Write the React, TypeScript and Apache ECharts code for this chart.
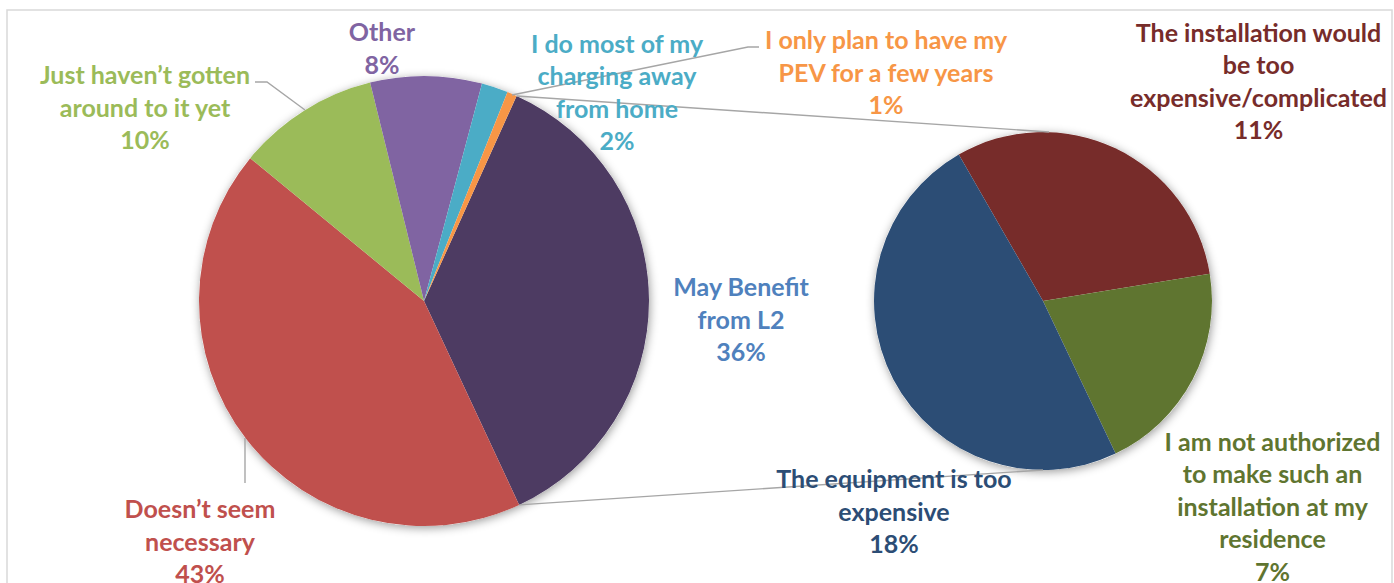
import React, { useEffect, useRef } from 'react';
import * as echarts from 'echarts';

// ---- data ----
const mainNames = [
  'May Benefit\nfrom L2',
  'Doesn\u2019t seem\nnecessary',
  'Just haven\u2019t gotten\naround to it yet',
  'Other',
  'I do most of my\ncharging away\nfrom home',
  'I only plan to have my\nPEV for a few years',
];
const mainValues = [36.3, 42.9, 10.2, 8.0, 1.9, 0.7];
const mainColors = ['#4D3B62', '#C0504D', '#9BBB59', '#8064A2', '#4BACC6', '#F79646'];
const mainLabelColors = ['#4F81BD', '#C0504D', '#9BBB59', '#8064A2', '#4BACC6', '#F79646'];

const subNames = [
  'The installation would\nbe too\nexpensive/complicated',
  'I am not authorized\nto make such an\ninstallation at my\nresidence',
  'The equipment is too\nexpensive',
];
const subValues = [11.15, 7.45, 17.7];
const subColors = ['#772C2A', '#5F7530', '#2C4D75'];
const subLabelColors = ['#772C2A', '#5F7530', '#2C4D75'];

// ---- layout (styling) ----
const LEFT = { cx: 424, cy: 301, r: 225, start: 65.7 };
const RIGHT = { cx: 1043, cy: 301, r: 169, start: 119.9 };
const mainLabelPos = [
  [741, 318.5],
  [200, 540.5],
  [145, 106.5],
  [382, 47.5],
  [617, 91.5],
  [886, 71.5],
];
const subLabelPos = [
  [1258.5, 80.5],
  [1272.5, 505.5],
  [894, 510.5],
];
const leaderLines = [
  [[255, 82], [267, 82], [305, 110]],
  [[512, 95], [748, 47], [759, 47]],
  [[245, 438], [245, 483]],
];

const FONT = 'Lato';
const FS = 25;
const LH = 32.5;

export default function App() {
  const ref = useRef<HTMLDivElement>(null);
  useEffect(() => {
    if (!ref.current) return;
    const chart = echarts.init(ref.current, undefined, { renderer: 'svg' });
    const total = mainValues.reduce((a, b) => a + b, 0);
    const a0 = (LEFT.start * Math.PI) / 180;
    const a1 = ((LEFT.start - (360 * mainValues[0]) / total) * Math.PI) / 180;
    const p0 = [LEFT.cx + LEFT.r * Math.cos(a0), LEFT.cy - LEFT.r * Math.sin(a0)];
    const p1 = [LEFT.cx + LEFT.r * Math.cos(a1), LEFT.cy - LEFT.r * Math.sin(a1)];

    const texts: any[] = [];
    mainNames.forEach((n, i) => {
      texts.push({
        type: 'text',
        z: 10,
        style: {
          text: n + '\n' + Math.round(mainValues[i]) + '%',
          x: mainLabelPos[i][0],
          y: mainLabelPos[i][1],
          align: 'center',
          verticalAlign: 'middle',
          fill: mainLabelColors[i],
          fontFamily: FONT,
          fontWeight: 'bold',
          fontSize: FS,
          lineHeight: LH,
        },
      });
    });
    subNames.forEach((n, i) => {
      texts.push({
        type: 'text',
        z: 10,
        style: {
          text: n + '\n' + Math.round(subValues[i]) + '%',
          x: subLabelPos[i][0],
          y: subLabelPos[i][1],
          align: 'center',
          verticalAlign: 'middle',
          fill: subLabelColors[i],
          fontFamily: FONT,
          fontWeight: 'bold',
          fontSize: FS,
          lineHeight: LH,
        },
      });
    });

    const lineStyle = { stroke: '#A6A6A6', lineWidth: 1.4, fill: 'none' };
    const lines: any[] = leaderLines.map((pts) => ({
      type: 'polyline',
      z: 5,
      shape: { points: pts },
      style: lineStyle,
    }));
    lines.push({
      type: 'line',
      z: 5,
      shape: { x1: p0[0], y1: p0[1], x2: RIGHT.cx + 6, y2: RIGHT.cy - RIGHT.r },
      style: lineStyle,
    });
    lines.push({
      type: 'line',
      z: 5,
      shape: { x1: p1[0], y1: p1[1], x2: RIGHT.cx, y2: RIGHT.cy + RIGHT.r },
      style: lineStyle,
    });

    const shadowPie = (c: any) => ({
      type: 'pie',
      silent: true,
      center: [c.cx, c.cy],
      radius: c.r,
      label: { show: false },
      labelLine: { show: false },
      emphasis: { disabled: true },
      z: 1,
      data: [{ value: 1, itemStyle: { color: '#ffffff', shadowBlur: 10, shadowColor: 'rgba(0,0,0,0.4)', shadowOffsetX: 1, shadowOffsetY: 2 } }],
    });

    chart.setOption({
      animation: false,
      backgroundColor: '#ffffff',
      graphic: [
        {
          type: 'rect',
          z: 0,
          shape: { x: 7, y: 10, width: 1385, height: 600 },
          style: { fill: 'none', stroke: '#D9D9D9', lineWidth: 1.5 },
        },
        ...lines,
        ...texts,
      ],
      series: [
        shadowPie(LEFT),
        shadowPie(RIGHT),
        {
          type: 'pie',
          silent: true,
          z: 2,
          center: [LEFT.cx, LEFT.cy],
          radius: LEFT.r,
          startAngle: LEFT.start,
          clockwise: true,
          avoidLabelOverlap: false,
          label: { show: false },
          labelLine: { show: false },
          emphasis: { disabled: true },
          itemStyle: { borderWidth: 0 },
          data: mainNames.map((n, i) => ({ name: n, value: mainValues[i], itemStyle: { color: mainColors[i] } })),
        },
        {
          type: 'pie',
          silent: true,
          z: 2,
          center: [RIGHT.cx, RIGHT.cy],
          radius: RIGHT.r,
          startAngle: RIGHT.start,
          clockwise: true,
          avoidLabelOverlap: false,
          label: { show: false },
          labelLine: { show: false },
          emphasis: { disabled: true },
          itemStyle: { borderWidth: 0 },
          data: subNames.map((n, i) => ({ name: n, value: subValues[i], itemStyle: { color: subColors[i] } })),
        },
      ],
    });
    return () => chart.dispose();
  }, []);
  return (
    <div
      ref={ref}
      style={{ position: 'fixed', left: 0, top: 0, width: 1394, height: 583, background: '#fff' }}
    />
  );
}
